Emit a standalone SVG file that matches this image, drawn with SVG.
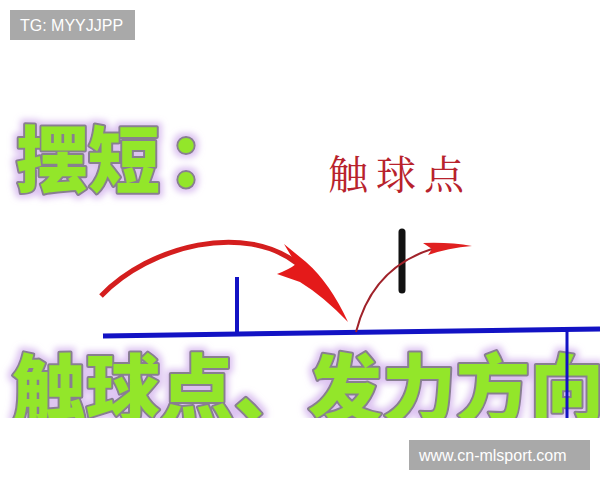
<svg xmlns="http://www.w3.org/2000/svg" width="600" height="480" viewBox="0 0 600 480">
<defs>
<style>
.big{font-family:"Noto Sans CJK SC","Noto Sans CJK JP",sans-serif;font-weight:900;fill:#93e62b;stroke:#887f90;stroke-width:4;paint-order:stroke;stroke-linejoin:round}
.red{font-family:"Noto Serif CJK SC","Noto Sans CJK SC",serif;font-weight:400;fill:#b8222c;font-size:40px;letter-spacing:8px}
.wm{fill:#a9a9a9}
.wmt{font-family:"Liberation Sans",Arial,sans-serif;fill:#ffffff;font-size:16px}
.blue{stroke:#1212c4;fill:none}
</style>
<filter id="glow" x="-10%" y="-30%" width="120%" height="160%">
<feMorphology in="SourceAlpha" operator="dilate" radius="3" result="d"/>
<feGaussianBlur in="d" stdDeviation="3" result="b"/>
<feFlood flood-color="#d6b8ee" flood-opacity="0.85"/>
<feComposite in2="b" operator="in" result="g"/>
<feMerge><feMergeNode in="g"/><feMergeNode in="SourceGraphic"/></feMerge>
</filter>
<clipPath id="photo"><rect x="0" y="0" width="600" height="418"/></clipPath>
</defs>
<rect width="600" height="480" fill="#ffffff"/>
<g id="title" filter="url(#glow)">
<text class="big" x="16" y="186" font-size="72">摆短<tspan dx="8">：</tspan></text>
</g>
<g id="label-contact">
<text class="red" x="328" y="189">触球点</text>
</g>
<g id="bottom-title" clip-path="url(#photo)">
<g filter="url(#glow)">
<text class="big" x="12" y="416" font-size="74">触球点、发力方向</text>
</g>
</g>
<g id="connectors">
<path class="blue" d="M103,336 L600,329" stroke-width="5"/>
<path class="blue" d="M237,277 L237,334" stroke-width="4"/>
<path class="blue" d="M567,330 L567,418" stroke-width="3"/>
<path d="M402,232 L402,290" stroke="#111111" stroke-width="7" stroke-linecap="round"/>
<path d="M101,296 C150,245 245,222 298,264" fill="none" stroke="#d41e1e" stroke-width="5"/>
<path d="M284,244 L306,262 Q330,283 348,322 Q323,296 300,282 L277,274 Q290,269 296,264 Z" fill="#e41a1a"/>
<path d="M356,332 Q372,268 432,249" fill="none" stroke="#a0222a" stroke-width="2"/>
<path d="M423,243 Q450,242 472,246 Q448,248 428,255 L432,249 Z" fill="#e02020"/>
</g>
<g id="watermark-top">
<rect class="wm" x="10" y="10" width="125" height="30"/>
<text class="wmt" x="20" y="31" font-size="15">TG: MYYJJPP</text>
</g>
<g id="watermark-bottom">
<rect class="wm" x="409" y="440" width="181" height="30"/>
<text class="wmt" x="419" y="461">www.cn-mlsport.com</text>
</g>
</svg>
